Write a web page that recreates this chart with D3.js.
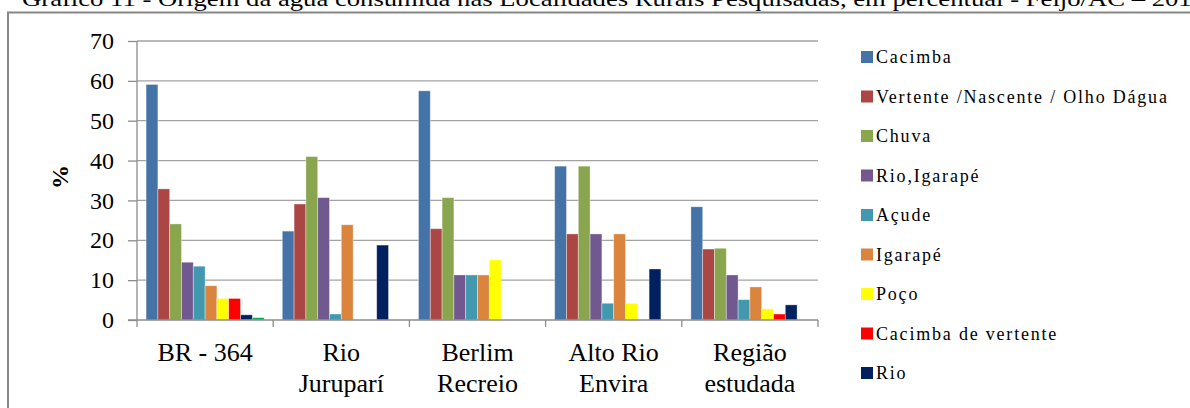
<!DOCTYPE html>
<html lang="pt">
<head>
<meta charset="utf-8">
<title>Origem da água consumida</title>
<script src="https://d3js.org/d3.v7.min.js"></script>
<style>
  body { margin: 0; background: #fff; }
  svg, svg text { font-family: "Liberation Serif", "Times New Roman", serif; }
</style>
</head>
<body>
<div id="chart"></div>
<script>
// categorias (eixo x), cada uma pode ter duas linhas
var categories = ["BR - 364", "Rio Juruparí", "Berlim Recreio", "Alto Rio Envira", "Região estudada"];
var categoryLines = [["BR - 364"], ["Rio", "Juruparí"], ["Berlim", "Recreio"], ["Alto Rio", "Envira"], ["Região", "estudada"]];

var series = ["Cacimba", "Vertente /Nascente / Olho Dágua", "Chuva", "Rio,Igarapé", "Açude",
              "Igarapé", "Poço", "Cacimba de vertente", "Rio", "Outros"];
var colors = ["#4572A7", "#AA4643", "#89A54E", "#71588F", "#4198AF",
              "#DB843D", "#FFFF00", "#FF0000", "#002060", "#00B050"];

// valores em % por série, na ordem das categorias
var cacimba      = [59.1, 22.3, 57.5, 38.6, 28.4];
var vertente     = [32.9, 29.1, 22.9, 21.6, 17.8];
var chuva        = [24.1, 41.0, 30.7, 38.6, 18.0];
var rioIgarape   = [14.5, 30.7, 11.3, 21.6, 11.3];
var acude        = [13.5,  1.5, 11.3,  4.2,  5.1];
var igarape      = [ 8.6, 23.9, 11.3, 21.6,  8.3];
var poco         = [ 5.4,  0.0, 15.1,  4.2,  2.8];
var cacimbaVert  = [ 5.4,  0.0,  0.0,  0.0,  1.5];
var rio          = [ 1.3, 18.8,  0.0, 12.8,  3.8];
var outros       = [ 0.6,  0.0,  0.0,  0.0,  0.0];

var yTicks = [0, 10, 20, 30, 40, 50, 60, 70];

var values = [cacimba, vertente, chuva, rioIgarape, acude, igarape, poco, cacimbaVert, rio, outros];

var width = 1190, height = 408;
var plotLeft = 137, plotRight = 818, plotTop = 41, plotBottom = 320;

var svg = d3.select("#chart").append("svg")
    .attr("width", width)
    .attr("height", height);

// título cortado no topo
svg.append("text")
    .attr("x", 22)
    .attr("y", 6)
    .attr("font-size", 22)
    .attr("textLength", 1182)
    .attr("lengthAdjust", "spacingAndGlyphs")
    .text("Gráfico 11 - Origem da água consumida nas Localidades Rurais Pesquisadas, em percentual - Feijó/AC – 2011");

// moldura
svg.append("path")
    .attr("d", "M8,420 L8,12.5 L1200,12.5")
    .attr("fill", "none")
    .attr("stroke", "#868686")
    .attr("stroke-width", 2);

var y = d3.scaleLinear().domain([0, 70]).range([plotBottom, plotTop]);
var x0 = d3.scaleBand().domain(categories).range([plotLeft, plotRight]);
var x1 = d3.scaleBand().domain(series).range([0, x0.bandwidth()]).paddingOuter(0.77);
var color = d3.scaleOrdinal().domain(series).range(colors);

// linhas de grade
svg.append("g").selectAll("line")
    .data(yTicks.filter(function(d) { return d > 0; }))
    .enter().append("line")
    .attr("x1", plotLeft).attr("x2", plotRight)
    .attr("y1", function(d) { return y(d); })
    .attr("y2", function(d) { return y(d); })
    .attr("stroke", "#a3a3a3")
    .attr("stroke-width", 1.3);

// barras
var groups = svg.append("g").selectAll("g")
    .data(categories)
    .enter().append("g")
    .attr("transform", function(d) { return "translate(" + x0(d) + ",0)"; });

groups.selectAll("rect")
    .data(function(c, ci) {
      return series.map(function(s, si) { return { key: s, value: values[si][ci] }; });
    })
    .enter().filter(function(d) { return d.value > 0; })
    .append("rect")
    .attr("x", function(d) { return x1(d.key); })
    .attr("width", x1.bandwidth())
    .attr("y", function(d) { return y(d.value); })
    .attr("height", function(d) { return plotBottom - y(d.value); })
    .attr("fill", function(d) { return color(d.key); })
    .attr("stroke", "rgba(255,255,255,0.45)")
    .attr("stroke-width", 0.8);

// eixo y
var yAxis = svg.append("g")
    .attr("transform", "translate(" + plotLeft + ",0)")
    .call(d3.axisLeft(y).tickValues(yTicks).tickSize(9).tickPadding(14));
yAxis.select(".domain").attr("stroke", "#8c8c8c").attr("stroke-width", 1.3).attr("d", "M0," + plotTop + "V" + plotBottom);
yAxis.selectAll(".tick line").attr("stroke", "#8c8c8c").attr("stroke-width", 1.3);
yAxis.selectAll(".tick text")
    .attr("font-family", "Liberation Serif, serif")
    .attr("font-size", 24)
    .attr("fill", "#000");

// eixo x
svg.append("line")
    .attr("x1", plotLeft - 9).attr("x2", plotRight)
    .attr("y1", plotBottom).attr("y2", plotBottom)
    .attr("stroke", "#8c8c8c").attr("stroke-width", 1.3);

var xTickPos = categories.map(function(c) { return x0(c); }).concat([plotRight]);
svg.append("g").selectAll("line")
    .data(xTickPos)
    .enter().append("line")
    .attr("x1", function(d) { return d; }).attr("x2", function(d) { return d; })
    .attr("y1", plotBottom).attr("y2", plotBottom + 7)
    .attr("stroke", "#8c8c8c").attr("stroke-width", 1.3);

var xLabels = svg.append("g").selectAll("text")
    .data(categories)
    .enter().append("text")
    .attr("x", function(d) { return x0(d) + x0.bandwidth() / 2; })
    .attr("y", 361)
    .attr("text-anchor", "middle")
    .attr("font-size", 26);

xLabels.selectAll("tspan")
    .data(function(d, i) { return categoryLines[i]; })
    .enter().append("tspan")
    .attr("x", function() { return d3.select(this.parentNode).attr("x"); })
    .attr("dy", function(d, i) { return i === 0 ? 0 : 31; })
    .text(function(d) { return d; });

// título do eixo y
svg.append("text")
    .attr("transform", "translate(68,177) rotate(-90)")
    .attr("text-anchor", "middle")
    .attr("font-size", 24)
    .attr("font-weight", "bold")
    .text("%");

// legenda (a última entrada fica fora do recorte da imagem)
var legend = svg.append("g").selectAll("g")
    .data(series.slice(0, 9))
    .enter().append("g")
    .attr("transform", function(d, i) { return "translate(861," + (57 + i * 39.5) + ")"; });

legend.append("rect")
    .attr("x", 0).attr("y", -6)
    .attr("width", 12).attr("height", 12)
    .attr("fill", function(d) { return color(d); });

legend.append("text")
    .attr("x", 15)
    .attr("y", 6)
    .attr("font-family", "Liberation Serif, serif")
    .attr("font-size", 18)
    .attr("letter-spacing", 1.8)
    .text(function(d) { return d; });
</script>
</body>
</html>
